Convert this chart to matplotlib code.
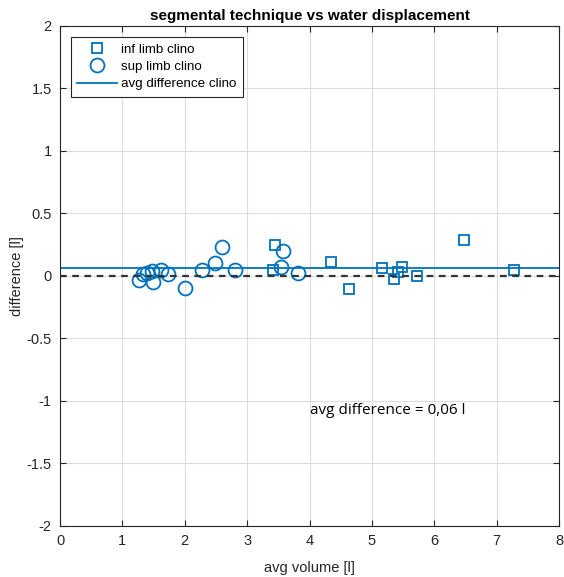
import matplotlib
matplotlib.use("Agg")
import matplotlib.pyplot as plt

plt.rcParams['font.family'] = ['Liberation Sans', 'DejaVu Sans']

# Data
inf_x = [3.45, 3.41, 4.34, 4.63, 5.16, 5.35, 5.42, 5.48, 5.73, 6.47, 7.28]
inf_y = [0.246, 0.046, 0.115, -0.107, 0.062, -0.027, 0.035, 0.072, 0.0, 0.284, 0.046]
sup_x = [1.27, 1.33, 1.39, 1.47, 1.49, 1.62, 1.73, 2.00, 2.27, 2.49, 2.59, 2.81, 3.54, 3.58, 3.82]
sup_y = [-0.035, 0.014, 0.025, 0.04, -0.048, 0.046, 0.014, -0.099, 0.046, 0.104, 0.23, 0.046, 0.072, 0.20, 0.027]
avg_diff = 0.06
xlim = (0, 8)
ylim = (-2, 2)
xticks = [0, 1, 2, 3, 4, 5, 6, 7, 8]
yticks = [-2, -1.5, -1, -0.5, 0, 0.5, 1, 1.5, 2]

blue = '#0072BD'
dark = '#262626'

fig = plt.figure(figsize=(5.64, 5.77), dpi=100)
ax = fig.add_axes([0.1064, 0.0884, 0.8848, 0.8666])

ax.plot(inf_x, inf_y, 's', mfc='none', mec=blue, mew=1.3, ms=7.5, label='inf limb clino')
ax.plot(sup_x, sup_y, 'o', mfc='none', mec=blue, mew=1.3, ms=10, label='sup limb clino')
ax.axhline(avg_diff, color=blue, lw=1.3, label='avg difference clino')
ax.axhline(0, color='#333333', lw=1.6, ls=(0, (3, 2.5)))

ax.set_xlim(*xlim)
ax.set_ylim(*ylim)
ax.set_xticks(xticks)
ax.set_yticks(yticks)
ax.set_xticklabels(['%g' % v for v in xticks])
ax.set_yticklabels(['%g' % v for v in yticks])
ax.grid(True, color='#dcdcdc', lw=0.8)
ax.set_axisbelow(True)
ax.tick_params(direction='in', length=4, labelsize=10.5, colors=dark, top=True, right=True,
               labeltop=False, labelright=False, pad=6)
for s in ax.spines.values():
    s.set_color(dark)
    s.set_linewidth(0.8)

ax.set_xlabel('avg volume [l]', fontsize=10.5, color=dark, labelpad=9)
ax.set_ylabel('difference [l]', fontsize=10.5, color=dark, labelpad=2)
ax.set_title('segmental technique vs water displacement', fontsize=11, fontweight='bold', pad=4)

ax.text(4.0, -1.08, 'avg difference = 0,06 l', fontsize=11, family=['Open Sans', 'DejaVu Sans'],
        va='center', ha='left')

leg = ax.legend(loc='upper left', fontsize=9.6, frameon=True, fancybox=False,
                edgecolor=dark, framealpha=1, borderpad=0.5, handlelength=3.0,
                handletextpad=0.3, labelspacing=0.38, borderaxespad=0.8)
leg.get_frame().set_linewidth(0.8)

fig.savefig('out.png', dpi=100)
